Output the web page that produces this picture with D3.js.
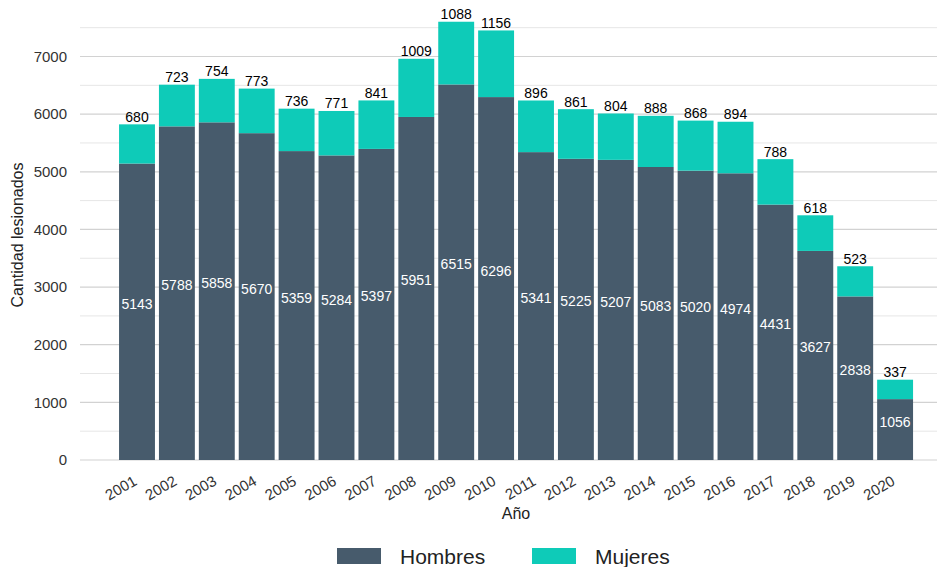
<!DOCTYPE html>
<html lang="es">
<head>
<meta charset="UTF-8">
<title>Lesionados por año</title>
<script src="https://d3js.org/d3.v7.min.js"></script>
<style>
    body { margin: 0; background: #fff; }
    svg { font-family: "Liberation Sans", Arial, sans-serif; }
    .tick-label { fill: #333; font-size: 15px; }
    .bar-label { font-size: 14px; }
</style>
</head>
<body>
<svg width="937" height="567"></svg>
<script>
const years = ["2001","2002","2003","2004","2005","2006","2007","2008","2009","2010",
               "2011","2012","2013","2014","2015","2016","2017","2018","2019","2020"];
const hombres = [5143,5788,5858,5670,5359,5284,5397,5951,6515,6296,
                 5341,5225,5207,5083,5020,4974,4431,3627,2838,1056];
const mujeres = [680,723,754,773,736,771,841,1009,1088,1156,
                 896,861,804,888,868,894,788,618,523,337];
const yTicks = [0,1000,2000,3000,4000,5000,6000,7000];

const colHombres = "#475b6c";
const colMujeres = "#0ecbb8";

const svg = d3.select("svg");

const x = d3.scaleBand()
    .domain(years)
    .range([117.05, 915.05])
    .paddingInner(0.1)
    .paddingOuter(0.05);

const y = d3.scaleLinear()
    .domain([0, 7000])
    .range([460, 56.5]);

// grid lines
const minor = d3.range(500, 7600, 1000);
svg.append("g").selectAll("line").data(minor).join("line")
    .attr("x1", 80).attr("x2", 937)
    .attr("y1", d => y(d)).attr("y2", d => y(d))
    .attr("stroke", "#e6e6e6").attr("stroke-width", 1);
svg.append("g").selectAll("line").data(yTicks).join("line")
    .attr("x1", 80).attr("x2", 937)
    .attr("y1", d => y(d)).attr("y2", d => y(d))
    .attr("stroke", "#d2d2d2").attr("stroke-width", 1.2);

// y axis labels
svg.append("g").selectAll("text").data(yTicks).join("text")
    .attr("class", "tick-label")
    .attr("x", 67)
    .attr("y", d => y(d))
    .attr("dy", "0.35em")
    .attr("text-anchor", "end")
    .text(d => d);

// x axis labels
svg.append("g").selectAll("text").data(years).join("text")
    .attr("class", "tick-label")
    .attr("text-anchor", "end")
    .attr("transform", d => `translate(${x(d) + x.bandwidth() / 2 + 1},${484}) rotate(-30)`)
    .text(d => d);

const data = years.map((yr, i) => ({ year: yr, h: hombres[i], m: mujeres[i] }));

// stacked bars
svg.append("g").selectAll("rect").data(data).join("rect")
    .attr("x", d => x(d.year))
    .attr("width", x.bandwidth())
    .attr("y", d => y(d.h))
    .attr("height", d => y(0) - y(d.h))
    .attr("fill", colHombres);

svg.append("g").selectAll("rect").data(data).join("rect")
    .attr("x", d => x(d.year))
    .attr("width", x.bandwidth())
    .attr("y", d => y(d.h + d.m))
    .attr("height", d => y(d.h) - y(d.h + d.m))
    .attr("fill", colMujeres);

// labels
svg.append("g").selectAll("text").data(data).join("text")
    .attr("class", "bar-label")
    .attr("x", d => x(d.year) + x.bandwidth() / 2)
    .attr("y", d => y(d.h / 2) - 3)
    .attr("text-anchor", "middle")
    .attr("fill", "#fff")
    .text(d => d.h);

svg.append("g").selectAll("text").data(data).join("text")
    .attr("class", "bar-label")
    .attr("x", d => x(d.year) + x.bandwidth() / 2)
    .attr("y", d => y(d.h + d.m) - 2.5)
    .attr("text-anchor", "middle")
    .attr("fill", "#000")
    .text(d => d.m);

// axis titles
svg.append("text")
    .attr("transform", "translate(23,235) rotate(-90)")
    .attr("text-anchor", "middle")
    .attr("font-size", "16px")
    .attr("fill", "#222")
    .text("Cantidad lesionados");

svg.append("text")
    .attr("x", 516).attr("y", 519)
    .attr("text-anchor", "middle")
    .attr("font-size", "16px")
    .attr("fill", "#222")
    .text("Año");

// legend
const legend = [
    { name: "Hombres", color: colHombres, x: 337 },
    { name: "Mujeres", color: colMujeres, x: 532 }
];
const lg = svg.append("g").selectAll("g").data(legend).join("g")
    .attr("transform", d => `translate(${d.x},548)`);
lg.append("rect").attr("width", 44).attr("height", 16).attr("fill", d => d.color);
lg.append("text")
    .attr("x", 63).attr("y", 16)
    .attr("font-size", "21px")
    .attr("fill", "#222")
    .text(d => d.name);
</script>
</body>
</html>
